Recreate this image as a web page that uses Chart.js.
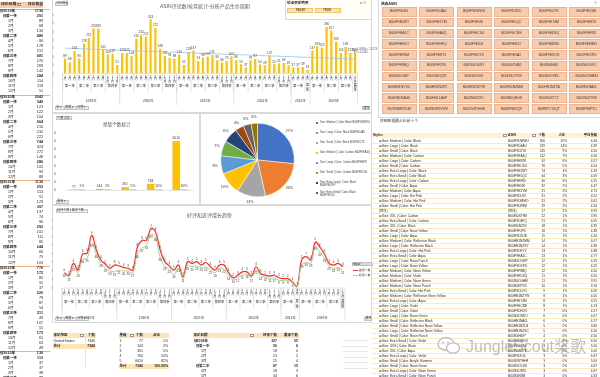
<!DOCTYPE html>
<html>
<head>
<meta charset="utf-8">
<title>ASIN评论分析</title>
<script src="https://cdn.jsdelivr.net/npm/chart.js@4.4.1/dist/chart.umd.min.js"></script>
<style>
  body{margin:0;width:600px;height:377px;overflow:hidden;position:relative;background:#fff;
       font-family:'Liberation Sans','Noto Sans CJK SC',sans-serif;color:#262626}
  .t{position:absolute;white-space:nowrap;font-size:4px;line-height:5px;z-index:3}
  .box{position:absolute;box-sizing:border-box;z-index:1}
  canvas{position:absolute;z-index:2}
</style>
</head>
<body>
<canvas id="review_graph" width="318" height="108" style="left:52px;top:0px"></canvas>
<canvas id="star_graph" width="145" height="78" style="left:52px;top:125px"></canvas>
<canvas id="pie_graph" width="115" height="90" style="left:200px;top:115px"></canvas>
<canvas id="trend_graph" width="300" height="112" style="left:52px;top:212px"></canvas>
<script>
// ---- data ----
const reviewYears = ['2019年','2020年','2021年','2022年','2023年','2024年']
const monthsPerYear = [12,12,12,12,4,10]
const quarterNames = ['第一季','第二季','第三季','第四季']

const reviewCounts = [
    89,68,134,90,178,212,270,269,142,114,119,51,
    123,122,104,210,232,222,324,272,148,105,93,88,
    113,51,129,137,74,96,101,111,80,66,75,103,
    80,55,37,79,87,54,49,107,55,61,63,49,
    37,37,39,23,
    137,163,155,280,257,190,124,158,123,124
]
const trendStart = 152
const trendEnd = 86

const goodCounts = [
    18,13,25,18,34,35,53,40,29,23,20,19,
    21,20,20,17,40,47,50,63,60,36,26,22,
    16,23,11,26,25,26,24,25,21,18,23,22,
    14,10,12,15,16,12,21,14,13,11,12,9,
    9,9,6,1,
    28,30,29,49,42,35,26,23,24,21
]
const badCounts = [
    0,2,4,3,6,6,9,5,4,5,3,8,
    5,4,3,4,8,9,6,7,6,9,5,4,
    5,4,2,5,4,5,3,5,4,3,4,5,
    4,2,3,4,3,2,4,3,2,3,3,3,
    2,2,1,1,
    5,7,4,5,6,5,3,4,5,4
]

const starLevels = ['1','2','3','4','5']
const starCounts = [77,144,351,764,6010]
const regionNames = ['United States']
const regionCounts = [7346]

const styleNames = ['Size: Medium | Color: Black','Size: Large | Color: Black','Size: Small | Color: Black','Size: Medium | Color: Carbon',
    'Size: Large | Color: Carbon','Size: Small | Color: Carbon','Size: Extra Large | Color: Black','Size: Extra Small | Color: Black',
    'Size: Extra Large | Color: Carbon','Size: Small | Color: Aqua','Size: Medium | Color: Aqua','Size: Large | Color: Hot Pink',
    'Size: Medium | Color: Hot Pink','Size: Small | Color: Hot Pink','(空白)','Size: XXL | Color: Carbon',
    'Size: Extra Small | Color: Carbon','Size: XXL | Color: Black','Size: Small | Color: Neon Yellow','Size: Large | Color: Aqua',
    'Size: Medium | Color: Reflective Black','Size: Large | Color: Reflective Black','Size: Extra Large | Color: Hot Pink','Size: Extra Small | Color: Aqua',
    'Size: Large | Color: Neon Punch','Size: Large | Color: Neon Yellow','Size: Medium | Color: Neon Yellow','Size: Medium | Color: Violet',
    'Size: Medium | Color: Neon Green','Size: Medium | Color: Neon Punch','Size: Extra Small | Color: Hot Pink','Size: Medium | Color: Reflective Neon Yellow',
    'Size: Extra Large | Color: Aqua','Size: Large | Color: Violet','Size: Small | Color: Violet','Size: Large | Color: Neon Green',
    'Size: Small | Color: Reflective Black','Size: Small | Color: Reflective Neon Yellow','Size: Large | Color: Reflective Neon Yellow','Size: Small | Color: Neon Punch',
    'Size: Extra Small | Color: Violet','Size: XXS | Color: Black','Size: XXL | Color: Aqua','Size: Extra Large | Color: Violet',
    'Size: Small | Color: Acrylic Summer','Size: Small | Color: Neon Green','Size: Extra Large | Color: Neon Green','Size: Extra Small | Color: Neon Punch']
const styleAsins = ['B00IF9DWWU','B00IF9D4AU','B00IF9D2T6','B00IF9EA4Q','B00IF9EB78','B00IF9ECD4','B00IF9E2WY','B00IF9E5QC',
    'B00IF9EF85','B00IF9E5IK','B00IF9E2YM','B00IF9DUIO','B00IF9DMMO','B00IF9DF8M','(空白)','B00IN0XYR8',
    'B00IF9D4FQ','B00IN0RZ9C','B00IF9F2P0','B00IF9D2UE','B00HN1NZMM','B00HN1NZSY','B00IF9DFY2','B00IF9EA1C',
    'B00IS4O0WY','B00IF9DXPU','B00IF9F8BQ','B00IF9EDXQ','B00IS4O4HM','B00IS4KPVC','B00IF9DUYC','B00HN1NZTW',
    'B00IF9E74M','B00IF9ECRE','B00IF9DH2O','B00IS4OSKO','B00HN1NA0L','B00HN1NZD4','B00HN1NZSC','B00IS4H4IP',
    'B00IF9DMGO','B00IN0LRK0','B00IN0SXTE','B00IF9DIU4','B00SVSTHH8','B00IS4O1UK','B00IS4ORI3','B00IS4KIB8']
const styleCounts = [306,229,145,112,92,76,74,44,40,32,31,31,31,29,27,22,21,18,16,15,14,14,13,13,
    12,12,12,11,11,10,9,8,8,8,7,6,6,5,5,4,4,3,3,3,3,3,3,3]
const styleShares = ['20%','14%','9%','7%','6%','5%','4%','3%','3%','2%','2%','2%','2%','2%','2%','1%','1%','1%','1%','1%','1%','1%','1%','1%',
    '1%','1%','1%','1%','1%','1%','1%','1%','1%','1%','0%','0%','0%','0%','0%','0%','0%','0%','0%','0%','0%','0%','0%','0%']
const styleStars = [4.44,4.39,4.50,4.56,4.57,4.54,4.33,4.59,4.25,4.47,4.71,4.52,4.61,4.34,3.93,3.95,4.05,4.39,4.38,4.20,4.07,4.36,4.38,4.77,
    4.25,4.25,4.50,4.55,3.91,3.70,4.09,4.00,3.25,4.13,4.57,4.67,4.17,3.60,4.20,4.50,4.50,5.00,5.00,4.67,5.00,4.67,4.67,4.33]

const asinButtons = [
    'B00IF9D4I0','B00IF9D4AU','B00IF9DWWU','B00IF9DVZC','B00IF9DZ7K','B00IF9E2UE',
    'B00IF9E2WY','B00IF9E2YM','B00IF9E5IK','B00IF9E5QC','B00IF9E74M','B00IF9E8T8',
    'B00IF9EA1C','B00IF9EA4Q','B00IF9ECD4','B00IF9ECRE','B00IF9EDXQ','B00IF9EF85',
    'B00IF9EH2O','B00IF9EHFQ','B00IF9EIU4','B00IF9EIUO','B00IF9EMS0','B00IF9EMMO',
    'B00IF9EF8M','B00IF9ER72','B00IF9EJYS','B00IF9EVA2','B00IF9EXOS','B00IF9EXPU',
    'B00IF9F8BQ','B00IF9F2P0','B00IS4O0WY','B00IS4OVA2','B00IS4H4I6','B00IS4O0VC',
    'B00IS4O0BY','B00IS4KQ1K','B00IS4O5IK','B00IS4OTKE','B00IS4OVEC','B00IS4OWAM',
    'B00HN1NYSC','B00HN1NZ8Y','B00HN1NZTW','B00HN1NZMM','B00HN1NZTA','B00HN1NA0L',
    'B00HN1NA0B','B00HN1LA6P','B00IN0RZ9C','B00IN0QHGK','B00IN0XT17','B00IN0XYR8',
    'B07WN88YDM','B08SNPKVWV','B00SVSTHH8','B08SP8KZQV','B08SPCY6QT','B08SP88P1C'
]
const pieColors = ['#4472C4','#ED7D31','#A5A5A5','#FFC000','#5B9BD5','#70AD47','#264478','#9E480E','#636363','#997300']

// month index helpers
const monthKeys = [], monthNo = [], yearNo = []
reviewYears.forEach((y, yi) => {
    for (let m = 1; m <= monthsPerYear[yi]; m++) { monthKeys.push(y + m + '月'); monthNo.push(m); yearNo.push(yi) }
})

Chart.defaults.font.family = "'Liberation Sans','Noto Sans CJK SC',sans-serif"
Chart.defaults.color = '#595959'
Chart.defaults.animation = false

// ---- html helpers ----
function add_box(x, y, w, h, bg, border){
    const d = document.createElement('div')
    d.className = 'box'
    d.style.cssText += 'left:'+x+'px;top:'+y+'px;width:'+w+'px;height:'+h+'px;background:'+(bg||'transparent')+';border:'+(border?('0.6px solid '+border):'none')
    document.body.appendChild(d)
    return d
}
function add_text(x, y, txt, opt){
    opt = opt || {}
    const d = document.createElement('div')
    d.className = 't'
    d.textContent = txt
    if (opt.right) { d.style.left = (x-90)+'px'; d.style.width = '90px'; d.style.textAlign = 'right' }
    else if (opt.center) { d.style.left = (x-60)+'px'; d.style.width = '120px'; d.style.textAlign = 'center' }
    else d.style.left = x+'px'
    d.style.top = y+'px'
    if (opt.size) d.style.fontSize = opt.size+'px'
    if (opt.lh) d.style.lineHeight = opt.lh+'px'
    if (opt.bold) d.style.fontWeight = 'bold'
    if (opt.color) d.style.color = opt.color
    if (opt.wrap) { d.style.whiteSpace = 'normal'; d.style.width = opt.wrap+'px' }
    document.body.appendChild(d)
    return d
}
function add_btn(x, y, txt){
    add_box(x, y, txt.length*2.6+3, 4.2, '#ededed', '#c4c4c4')
    add_text(x+1.2, y-0.4, txt, {size:3, lh:5, color:'#404040'})
}

function pivot_rows(cols){
    const rows = []
    const sum = (a, b) => cols.map(c => c.slice(a, b).reduce((s, v) => s + v, 0))
    let start = 0
    reviewYears.forEach((y, yi) => {
        const end = start + monthsPerYear[yi]
        rows.push({label:'⊟'+y, level:0, vals:sum(start, end)})
        for (let q = 0; q < 4; q++) {
            const a = start + q*3, b = Math.min(a + 3, end)
            if (a >= end) break
            rows.push({label:'⊟'+quarterNames[q], level:1, vals:sum(a, b)})
            for (let i = a; i < b; i++) rows.push({label:monthNo[i]+'月', level:2, vals:cols.map(c => c[i])})
        }
        start = end
    })
    return rows
}

// ---- chart plugins ----
const value_labels = {
    id:'value_labels',
    afterDatasetsDraw(chart, args, o){
        const c = chart.ctx
        c.save()
        c.font = o.size+'px "Liberation Sans"'
        c.fillStyle = '#404040'
        c.textAlign = 'center'
        chart.data.datasets.forEach((ds, di) => {
            if (ds.type === 'line' && !o.lines) return
            chart.getDatasetMeta(di).data.forEach((el, i) => {
                const txt = o.fmt ? o.fmt(ds.data[i], di, i) : ds.data[i]
                const below = o.below && o.below.includes(di)
                c.textBaseline = below ? 'top' : 'bottom'
                c.fillText(txt, el.x, below ? el.y + 1.5 : el.y - 1)
            })
        })
        c.restore()
    }
}

const group_axis = {
    id:'group_axis',
    afterDraw(chart, args, o){
        const xs = chart.scales.x, c = chart.ctx, base = chart.chartArea.bottom
        const half = (xs.getPixelForValue(1) - xs.getPixelForValue(0)) / 2
        const line = (x0, y0, x1, y1) => { c.beginPath(); c.moveTo(x0, y0); c.lineTo(x1, y1); c.stroke() }
        const stack = (txt, x, y) => { [...txt].forEach((ch, k) => c.fillText(ch, x, y + k*o.small)) }
        c.save()
        c.fillStyle = '#404040'
        c.strokeStyle = '#d0d0d0'
        c.lineWidth = 0.6
        c.textAlign = 'center'
        c.textBaseline = 'top'
        line(chart.chartArea.left, base, chart.chartArea.right, base)
        c.font = o.small+'px "Noto Sans CJK SC"'
        monthKeys.forEach((k, i) => stack(monthNo[i]+'月', xs.getPixelForValue(i), base + o.month))
        let i = 0
        while (i < monthKeys.length) {
            const q = Math.ceil(monthNo[i]/3)
            let j = i
            while (j+1 < monthKeys.length && yearNo[j+1] === yearNo[i] && Math.ceil(monthNo[j+1]/3) === q) j++
            const x0 = xs.getPixelForValue(i) - half, x1 = xs.getPixelForValue(j) + half
            if (j === i) stack(quarterNames[q-1], (x0+x1)/2, base + o.quarter - 1)
            else {
                c.font = o.text+'px "Noto Sans CJK SC"'
                c.fillText(quarterNames[q-1], (x0+x1)/2, base + o.quarter)
                c.font = o.small+'px "Noto Sans CJK SC"'
            }
            line(x0, base, x0, base + o.qLine)
            i = j + 1
        }
        c.font = o.text+'px "Noto Sans CJK SC"'
        let s = 0
        reviewYears.forEach((y, yi) => {
            const e = s + monthsPerYear[yi] - 1
            const x0 = xs.getPixelForValue(s) - half, x1 = xs.getPixelForValue(e) + half
            line(x0, base, x0, base + o.yLine)
            if (yi === reviewYears.length - 1) line(x1, base, x1, base + o.yLine)
            c.fillText(y, (x0+x1)/2, base + o.year)
            s = e + 1
        })
        c.restore()
    }
}

const pie_labels = {
    id:'pie_labels',
    afterDatasetsDraw(chart){
        const c = chart.ctx, meta = chart.getDatasetMeta(0), data = chart.data.datasets[0].data
        const total = data.reduce((s, v) => s + v, 0)
        c.save()
        c.font = '3.8px "Liberation Sans"'
        c.fillStyle = '#404040'
        c.textAlign = 'center'
        c.textBaseline = 'middle'
        meta.data.forEach((arc, i) => {
            const a = (arc.startAngle + arc.endAngle)/2, r = arc.outerRadius + 6
            c.fillText(Math.round(data[i]/total*100)+'%', arc.x + Math.cos(a)*r, arc.y + Math.sin(a)*r)
        })
        c.restore()
    }
}

// ---- charts ----
function load_review_graph(){
    const ctx = document.getElementById('review_graph').getContext('2d')
    const myChart = new Chart(ctx, {
        type:'bar',
        data:{
            labels:monthKeys,
            datasets:[{
                label:'评论数量',
                data:reviewCounts,
                backgroundColor:'#FFC000',
                barPercentage:0.45,
                categoryPercentage:1,
                order:2
            },{
                type:'line',
                label:'线性 (评论数量)',
                data:[{x:monthKeys[0], y:trendStart},{x:monthKeys[monthKeys.length-1], y:trendEnd}],
                borderColor:'#9DC3E6',
                borderWidth:0.8,
                pointRadius:0,
                order:1
            }]
        },
        options:{
            responsive:false,
            devicePixelRatio:1,
            layout:{padding:{left:0.6, right:12.5, top:15, bottom:34.5}},
            plugins:{
                legend:{display:false},
                tooltip:{enabled:false},
                value_labels:{size:3.1},
                group_axis:{month:1.5, quarter:10.5, year:26, qLine:19, yLine:31.5, small:2.9, text:3.3}
            },
            scales:{
                x:{display:false},
                y:{min:0, max:350, ticks:{stepSize:50, font:{size:3.6}, padding:1},
                   grid:{display:false}, border:{display:false}, afterFit(s){ s.width = 10 }}
            }
        },
        plugins:[value_labels, group_axis]
    })
}

function load_star_graph(){
    const total = starCounts.reduce((s, v) => s + v, 0)
    const ctx = document.getElementById('star_graph').getContext('2d')
    const myChart = new Chart(ctx, {
        type:'bar',
        data:{
            labels:starLevels,
            datasets:[{
                label:'个数',
                data:starCounts,
                backgroundColor:'#FFC000',
                barPercentage:0.95,
                categoryPercentage:0.62
            },{
                label:'占比',
                data:starCounts.map(v => v/total*100),
                backgroundColor:'#F8CBAD',
                minBarLength:1,
                barPercentage:0.95,
                categoryPercentage:0.62
            }]
        },
        options:{
            responsive:false,
            devicePixelRatio:1,
            layout:{padding:{left:2, right:4, top:8, bottom:5}},
            plugins:{
                legend:{display:false},
                tooltip:{enabled:false},
                value_labels:{size:3.4, fmt:(v, di) => di === 0 ? v : Math.round(v)+'%'}
            },
            scales:{
                x:{ticks:{font:{size:3.8}, padding:2}, grid:{display:false}, border:{color:'#d0d0d0', width:0.6},
                   afterFit(s){ s.height = 8 }},
                y:{min:0, max:7000, ticks:{stepSize:1000, font:{size:3.6}, padding:1},
                   grid:{display:false}, border:{display:false}, afterFit(s){ s.width = 11 }}
            }
        },
        plugins:[value_labels]
    })
}

function load_pie_graph(){
    const ctx = document.getElementById('pie_graph').getContext('2d')
    const myChart = new Chart(ctx, {
        type:'pie',
        data:{
            labels:styleNames.slice(0, 10).map((n, i) => n+' '+styleAsins[i]),
            datasets:[{
                data:styleCounts.slice(0, 10),
                backgroundColor:pieColors,
                borderColor:'#ffffff',
                borderWidth:0.5
            }]
        },
        options:{
            responsive:false,
            devicePixelRatio:1,
            layout:{padding:{left:20, right:20, top:8, bottom:8}},
            plugins:{legend:{display:false}, tooltip:{enabled:false}}
        },
        plugins:[pie_labels]
    })
}

function load_trend_graph(){
    const ctx = document.getElementById('trend_graph').getContext('2d')
    const myChart = new Chart(ctx, {
        type:'line',
        data:{
            labels:monthKeys,
            datasets:[{
                label:'好评个数',
                data:goodCounts,
                borderColor:'#A9D18E',
                borderWidth:1,
                pointRadius:0,
                tension:0.4,
                fill:false
            },{
                label:'差评个数',
                data:badCounts,
                borderColor:'#FF2A2A',
                borderWidth:1.2,
                pointRadius:0,
                tension:0.4,
                fill:false
            }]
        },
        options:{
            responsive:false,
            devicePixelRatio:1,
            layout:{padding:{left:0, right:7, top:8, bottom:36}},
            plugins:{
                legend:{display:false},
                tooltip:{enabled:false},
                value_labels:{size:3, lines:true, below:[0]},
                group_axis:{month:1.5, quarter:12.5, year:28, qLine:21, yLine:33, small:3.1, text:3.3}
            },
            scales:{
                x:{display:false, offset:true},
                y:{stacked:true, min:0, max:80, ticks:{stepSize:10, font:{size:3.4}, padding:1},
                   grid:{display:false}, border:{display:false}, afterFit(s){ s.width = 10 }}
            }
        },
        plugins:[value_labels, group_axis]
    })
}

// ---- panels, slicers and tables ----
function build_page(){
    // chart frames
    add_box(52, -1, 320, 114, null, '#d9d9d9')
    add_box(52, 113, 148, 92, null, '#d9d9d9')
    add_box(200, 113, 172, 92, null, '#d9d9d9')
    add_box(52, 205, 320, 118, null, '#d9d9d9')
    add_box(378, -1, 223, 119, null, '#d9d9d9')

    // titles
    add_text(160, 3, 'ASIN评论数/按月统计-分析产品生命周期', {size:5, lh:6, color:'#595959'})
    add_text(103, 122, '星级个数统计', {size:4.6, lh:6, color:'#595959'})
    add_text(187, 212, '好评和差评增长趋势', {size:5, lh:6, color:'#595959'})
    add_text(352, 47.5, 'y = -1.0983x + 153.29', {size:2.6, lh:3, color:'#595959'})
    add_text(354, 51, 'R² = 0.2465', {size:2.6, lh:3, color:'#595959'})

    // buttons
    add_btn(55, 1.5, '评论数量')
    add_btn(55, 105.5, '年 ▾')
    add_btn(64, 105.5, '季度 ▾')
    add_btn(76, 105.5, '日期 ▾')
    add_btn(56, 116, '个数 占比')
    add_btn(56, 199.5, '星级 ▾')
    add_btn(56, 208.5, '好评个数 | 差评个数')
    add_btn(55, 316.5, '年 ▾')
    add_btn(64, 316.5, '季度 ▾')
    add_btn(76, 316.5, '日期 ▾')
    add_btn(362, 106, '清除')
    add_btn(364, 316.5, '清除')

    // slicer
    add_box(285, -1, 87, 21, '#fffdf5', '#f5d98c')
    add_text(287, 1, '验证买家购买', {size:3.6, bold:true})
    add_text(360, 1, '⧉ ⊘', {size:3.2, color:'#888'})
    add_box(287, 7.5, 26, 5, '#fbe3b0', '#f0c36e')
    add_text(287, 7.5, 'FALSE', {size:3, center:false})
    add_box(315, 7.5, 26, 5, '#fbe3b0', '#f0c36e')
    add_text(323, 7.5, 'TRUE', {size:3})
    document.querySelectorAll('.t').forEach(d => { if (d.textContent === 'FALSE') d.style.left = '296px' })

    // pie legend
    styleNames.slice(0, 8).forEach((n, i) => {
        const y = 121 + i*10
        add_box(316, y+1, 2.4, 2.4, pieColors[i])
        add_text(320, y, n+' '+styleAsins[i], {size:2.6, lh:3.3, wrap:50, color:'#404040'})
    })

    // line legend
    add_box(352, 262, 21, 4, '#d9d9d9', '#bfbfbf')
    add_text(353, 261.5, '求和 ▾', {size:2.8, lh:5})
    add_box(353, 269.5, 5, 0.9, '#FF2A2A')
    add_text(359, 267.5, '差评个数', {size:2.8, lh:4})
    add_box(353, 275, 5, 0.9, '#A9D18E')
    add_text(359, 273, '好评个数', {size:2.8, lh:4})

    // left pivot table
    add_box(0, 1.5, 43, 6, '#F8CBAD')
    add_text(1, 2, '评论日期', {size:3.8, bold:true})
    add_box(17, 2.8, 4, 3.6, '#fff', '#999')
    add_text(17.6, 2, '▾', {size:3})
    add_text(43, 2, '评论数量', {size:3.8, bold:true, right:true})
    pivot_rows([reviewCounts]).forEach((r, i) => {
        const y = 9 + i*5.03
        if (y > 378) return
        if (r.level === 0) add_box(0, y, 50, 0.8, '#F4B183')
        const x = [0.3, 3, 8][r.level]
        add_text(x, y, r.label, {size:3.7, bold:r.level < 2})
        add_text(43, y, r.vals[0], {size:3.7, bold:r.level < 2, right:true})
    })

    // ASIN slicer grid
    add_text(381, 1.5, '筛选ASIN', {size:3.6, bold:true})
    add_text(594, 1, '⊘', {size:3.2, color:'#888'})
    asinButtons.forEach((a, k) => {
        const c = k % 6, r = Math.floor(k / 6)
        const x = 381.5 + c*37.5, y = 7 + r*10.8
        add_box(x, y, 35, 9.5, '#F8CBAD', '#EDB48F')
        add_text(x + 17.5, y + 2.3, a, {size:3.4, center:true, color:'#3a3a3a'})
    })

    // style table
    add_text(380, 119, '饼图数据最占比前十个', {size:3.8, color:'#404040'})
    add_box(372, 133, 228, 5, '#FFF2CC')
    add_text(373, 133, 'Styles', {size:3.3, bold:true})
    add_box(503, 133.8, 3.6, 3.4, '#fff', '#999')
    add_text(508, 133, 'ASIN', {size:3.3, bold:true})
    add_box(532, 133.8, 3.6, 3.4, '#fff', '#999')
    add_text(545, 133, '个数', {size:3.3, bold:true, right:true})
    add_text(565, 133, '占比', {size:3.3, bold:true, right:true})
    add_text(597, 133, '平均星级', {size:3.3, bold:true, right:true})
    styleNames.forEach((n, i) => {
        const y = 138.5 + i*5
        add_box(372, y + 4.6, 228, 0.5, '#FCEBC0')
        add_text(379, y, (n === '(空白)' ? '' : '⊞') + n, {size:3.2})
        add_text(508, y, styleAsins[i], {size:3.2})
        add_text(545, y, styleCounts[i], {size:3.2, right:true})
        add_text(567, y, styleShares[i], {size:3.2, right:true})
        add_text(597, y, styleStars[i].toFixed(2), {size:3.2, right:true})
    })

    // region table
    const total = starCounts.reduce((s, v) => s + v, 0)
    add_box(53, 333, 43, 5, '#FCE4B6')
    add_text(53.5, 333, '评论地区', {size:3.5, bold:true})
    add_box(80, 333.7, 3.6, 3.6, '#fff', '#999')
    add_text(95, 333, '个数', {size:3.5, bold:true, right:true})
    regionNames.forEach((n, i) => {
        add_text(53.5, 338.5 + i*5, n, {size:3.5})
        add_text(95, 338.5 + i*5, regionCounts[i], {size:3.5, right:true})
    })
    add_box(53, 343.5, 43, 5, '#FCE4B6')
    add_text(53.5, 343.5, '总计', {size:3.5, bold:true})
    add_text(95, 343.5, regionCounts.reduce((s, v) => s + v, 0), {size:3.5, bold:true, right:true})
    add_box(85, 338, 0.5, 30, '#e3e3e3')

    // star table
    add_box(119, 333, 50, 5, '#FCE4B6')
    add_text(119.5, 333, '星级', {size:3.5, bold:true})
    add_box(130, 333.7, 3.6, 3.6, '#fff', '#999')
    add_text(143, 333, '个数', {size:3.5, bold:true, right:true})
    add_text(160, 333, '占比', {size:3.5, bold:true, right:true})
    starLevels.forEach((s, i) => {
        const y = 338.5 + i*5
        add_text(119.5, y, s, {size:3.5})
        add_text(143, y, starCounts[i], {size:3.5, right:true})
        add_text(168, y, Math.round(starCounts[i]/total*100)+'%', {size:3.5, right:true})
    })
    add_box(119, 363.5, 50, 5, '#FCE4B6')
    add_text(119.5, 363.5, '总计', {size:3.5, bold:true})
    add_text(143, 363.5, total, {size:3.5, bold:true, right:true})
    add_text(168, 363.5, '100.00%', {size:3.5, bold:true, right:true})

    // good / bad pivot
    add_box(193, 333, 106, 5, '#FCE4B6')
    add_text(193.5, 333, '评论日期', {size:3.5, bold:true})
    add_box(250, 333.7, 3.6, 3.6, '#fff', '#999')
    add_text(277, 333, '好评个数', {size:3.5, bold:true, right:true})
    add_text(298, 333, '差评个数', {size:3.5, bold:true, right:true})
    pivot_rows([goodCounts, badCounts]).forEach((r, i) => {
        const y = 338.5 + i*5
        if (y > 378) return
        const x = [193.5, 196, 201][r.level]
        add_text(x, y, r.label, {size:3.5, bold:r.level < 2})
        add_text(277, y, r.vals[0], {size:3.5, bold:r.level < 2, right:true})
        add_text(298, y, r.vals[1], {size:3.5, bold:r.level < 2, right:true})
    })
    for (let k = 0; k < 6; k++) add_box(343, 340 + k*5.5, 25, 0.5, '#e6e6e6')

    // watermark
    const svg = '<svg width="24" height="18" viewBox="0 0 24 18" style="position:absolute;left:437px;top:337px;z-index:4">'
        + '<ellipse cx="9" cy="7" rx="8" ry="6.3" fill="none" stroke="#b8b8b8" stroke-width="1.2"/>'
        + '<ellipse cx="16" cy="11" rx="6.5" ry="5.2" fill="#fff" stroke="#b8b8b8" stroke-width="1.2"/>'
        + '<circle cx="6" cy="5.5" r="0.9" fill="#b8b8b8"/><circle cx="11" cy="5.5" r="0.9" fill="#b8b8b8"/></svg>'
    document.body.insertAdjacentHTML('beforeend', svg)
    const wm = add_text(466, 338, 'JungleScout桨歌', {size:16, lh:18, color:'rgba(140,140,140,0.55)'})
    wm.style.zIndex = 4
}

build_page()
load_review_graph()
load_star_graph()
load_pie_graph()
load_trend_graph()
</script>
</body>
</html>
